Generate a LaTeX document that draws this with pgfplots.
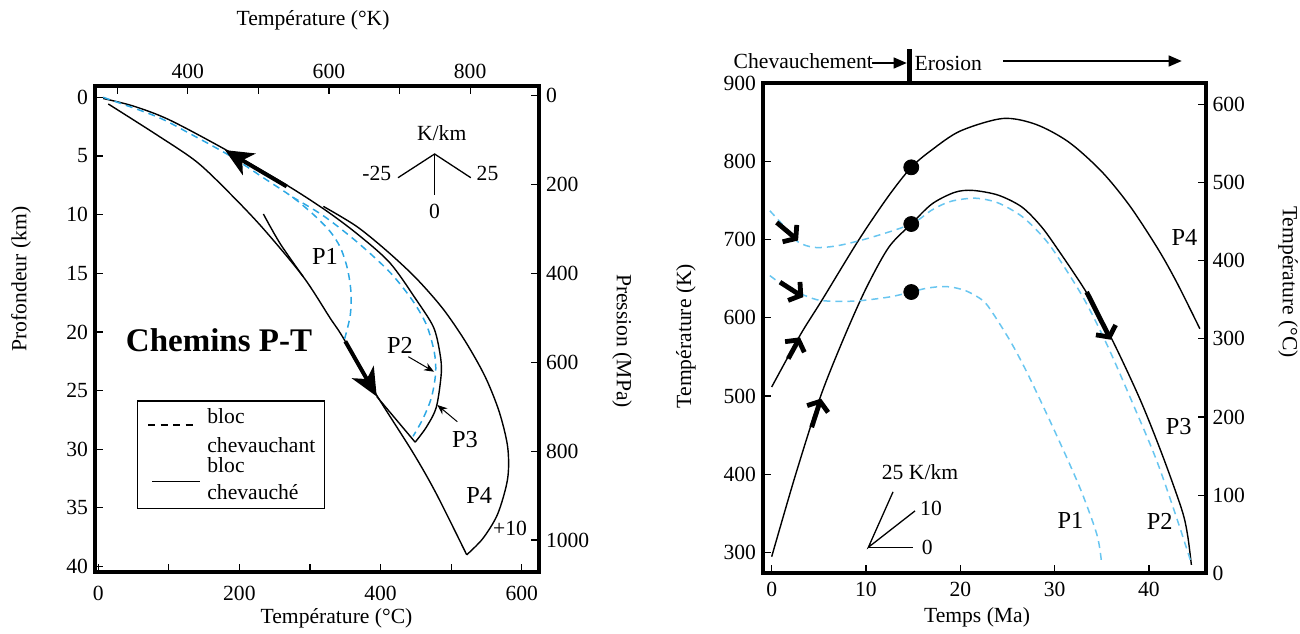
\documentclass[border=0pt]{standalone}
\usepackage{fontspec}
\setmainfont{Liberation Serif}
\usepackage{pgfplots}
\pgfplotsset{compat=1.18}
\usetikzlibrary{arrows.meta}
\definecolor{dblue}{RGB}{45,168,228}
\definecolor{lblue}{RGB}{105,198,240}
\newcommand{\tfont}{\fontsize{10.8}{12.5}\selectfont}
\newcommand{\pfont}{\fontsize{12.2}{14}\selectfont}
\pgfplotsset{
  frame/.style={scale only axis, axis line style={line width=2pt},
    tick style={line width=0.6pt, black}, major tick length=4pt, tick align=inside,
    tick label style={font=\tfont}, /pgf/number format/assume math mode=true, clip=false},
  solid/.style={black, line width=0.7pt},
  dashl/.style={dblue, line width=0.75pt, dash pattern=on 3.5pt off 2.5pt},
  dashr/.style={lblue, line width=0.75pt, dash pattern=on 3.5pt off 2.5pt},
}
\begin{document}
\begin{tikzpicture}[x=0.5pt,y=-0.5pt]
\path[use as bounding box] (0,0) rectangle (1300,633);

% ---------------- left panel ----------------
\begin{axis}[frame, at={(47.5pt,-43pt)}, anchor=north west, width=222pt, height=242.85pt,
  xmin=-4.53, xmax=624.4, ymin=-40.44, ymax=0.963,
  xtick={0,100,...,600}, xticklabels={0,,200,,400,,600},
  ytick={-40,-35,...,0}, yticklabels={40,35,30,25,20,15,10,5,0},
  xtick pos=left, ytick pos=left, xticklabel style={yshift=-3.5pt}]
% top line + P3 loop
\addplot[solid, smooth] coordinates {(7,-0.1) (50,-0.75) (100,-1.9) (177,-4.35) (262,-7.3) (319,-9.5) (366,-11.6) (413,-14.1) (451,-17.3) (475,-19.6) (484,-21.8) (486,-23.5) (479,-26.4) (465,-28.1) (449,-29.4)};
\addplot[solid] coordinates {(449,-29.4) (394.5,-25.5)};
% P4
\addplot[solid, smooth] coordinates {(319,-9.3) (366,-11.0) (409,-13.1) (450,-15.4) (488,-18.0) (520,-20.8) (548,-23.8) (568,-26.8) (580,-29.8) (580,-32.5) (566,-35.5) (545,-37.6) (522,-39.0)};
% burial line
\addplot[solid, smooth] coordinates {(14.3,-0.57) (83,-3.2) (139.5,-5.5) (186.7,-8.2) (233.9,-11.2) (290.5,-15.3) (328.3,-18.8) (347,-20.5) (394.5,-25.4) (446,-30.3) (479,-33.8) (522,-39.0)};
\addplot[solid, smooth] coordinates {(234,-9.95) (257.5,-12.45) (290.5,-15.3)};
% dashed
\addplot[dashl, smooth] coordinates {(7,0) (83,-1.65) (130,-3.1) (187,-5.0) (235,-6.9) (275,-8.5) (305,-10.0) (328,-11.4) (343,-12.8) (353,-14.6) (358,-16.6) (357,-18.6) (349,-20.6)};
\addplot[dashl, smooth] coordinates {(275,-8.5) (319,-10.1) (366,-12.3) (413,-14.9) (445,-17.3) (465,-19.4) (476,-21.7) (478,-23.5) (472,-25.6) (460,-27.4) (446,-28.9)};
% thick arrows
\draw[line width=2pt, -{Stealth[length=14pt,width=12.5pt,inset=4pt]}] (axis cs:267,-7.6) -- (axis cs:179.6,-4.5);
\draw[line width=2pt, -{Stealth[length=14pt,width=12.5pt,inset=4pt]}] (axis cs:350,-20.8) -- (axis cs:394.5,-25.5);
\end{axis}
\begin{axis}[frame, at={(47.5pt,-43pt)}, anchor=north west, width=222pt, height=242.85pt,
  xmin=268.62, xmax=897.55, ymin=-1071.3, ymax=21.4,
  xtick={300,400,...,800}, xticklabels={,400,,600,,800},
  ytick={-1000,-800,...,0}, yticklabels={1000,800,600,400,200,0},
  xtick pos=right, xticklabel pos=right, ytick pos=right, yticklabel pos=right]
\end{axis}

% ---------------- right panel ----------------
\begin{axis}[frame, at={(381.5pt,-41.65pt)}, anchor=north west, width=221.25pt, height=245pt,
  xmin=-0.92, xmax=46, ymin=273.15, ymax=900,
  xtick={0,10,...,40}, ytick={300,400,...,900}, xtick pos=left, ytick pos=left,
  xticklabel style={yshift=-1pt}]
\addplot[solid, smooth] coordinates {(0,511.5) (3.0,577.5) (5.3,622) (9.2,699) (12.4,756) (14.8,792.5) (17,815) (20,839) (24.5,855) (28,847.5) (31.5,824.8) (35,787) (38,742.7) (41,687.3) (43,644.2) (45.4,586)};
\addplot[solid, smooth] coordinates {(0,294.4) (2.5,398) (5.1,496.7) (7.4,567) (9.9,635) (12.4,690) (14.8,720) (17,745.7) (19.4,760.5) (21.3,763) (24,757) (26.5,742) (28.5,718) (30.2,690) (33.4,632) (36.1,572) (39.1,494.5) (41.5,422) (43.5,354) (44.1,322) (44.5,284)};
\addplot[dashr, smooth] coordinates {(-0.2,737) (1.4,716) (2.8,697) (4.6,690) (7.1,692.5) (10.6,703) (14.8,720) (17,738) (19,749) (21.6,753) (24,747) (26.5,730) (28.5,707) (30,684) (33.0,626.5) (35.5,567) (38.3,490) (40.8,418) (42.9,345.5) (44.5,286)};
\addplot[dashr, smooth] coordinates {(-0.2,654) (1.8,637) (3.5,628.6) (5.3,622) (8.8,621.4) (12.4,626.5) (14.8,633) (16.5,638) (18.5,640) (20.5,635) (22.4,622) (23.5,605) (25.5,566) (27.4,522) (30.2,450) (32.7,382) (34.5,322) (35.0,284)};
\addplot[only marks, mark=*, mark size=3.75pt, black] coordinates {(14.8,792.5) (14.8,720) (14.8,633)};
% thick arrows
\draw[line width=2.4pt, -{Straight Barb[length=4pt,width=11pt]}] (axis cs:0.53,722) -- (axis cs:2.8,699);
\draw[line width=2.4pt, -{Straight Barb[length=4pt,width=11pt]}] (axis cs:0.88,645.6) -- (axis cs:3.35,626.5);
\draw[line width=2.4pt, -{Straight Barb[length=4pt,width=11pt]}] (axis cs:1.76,547.8) -- (axis cs:3.0,575);
\draw[line width=2.4pt, -{Straight Barb[length=4pt,width=11pt]}] (axis cs:4.24,460) -- (axis cs:5.23,496.7);
\draw[line width=2.4pt, -{Straight Barb[length=4pt,width=11pt]}] (axis cs:33.4,633) -- (axis cs:35.95,572);
% gradient indicator
\draw[line width=0.65pt] (axis cs:12.87,377.4) -- (axis cs:10.25,306.4) -- (axis cs:15.2,353);
\draw[line width=0.65pt] (axis cs:10.25,306.4) -- (axis cs:15.0,306.4);
\end{axis}
\begin{axis}[frame, at={(381.5pt,-41.65pt)}, anchor=north west, width=221.25pt, height=245pt,
  xmin=-0.92, xmax=46, ymin=0, ymax=626.85,
  xtick=\empty, ytick={0,100,...,600}, ytick pos=right, yticklabel pos=right]
\end{axis}

% ---------------- texts (picture px coordinates) ----------------
\node[font=\tfont] at (313,20) {Température (°K)};
\node[font=\tfont] at (336.5,618) {Température (°C)};
\node[font=\tfont, rotate=90] at (21,279) {Profondeur (km)};
\node[font=\tfont, rotate=-90] at (622,341) {Pression (MPa)};
\node[font=\tfont, rotate=90] at (686,336) {Température (K)};
\node[font=\tfont, rotate=-90] at (1288,282) {Température (°C)};
\node[font=\tfont] at (977,617) {Temps (Ma)};

\node[font=\fontsize{16.5}{20}\selectfont\bfseries] at (219,340) {Chemins P-T};

% left labels
\node[font=\pfont] at (325,256.7) {P1};
\node[font=\pfont] at (400,345) {P2};
\node[font=\pfont] at (465,439.3) {P3};
\node[font=\pfont] at (479.3,495) {P4};
\node[font=\tfont] at (510,528.3) {+10};
\draw[line width=0.5pt, -{Stealth[length=5pt,width=4pt]}] (408.3,356.7) -- (434,371.7);
\draw[line width=0.5pt, -{Stealth[length=5pt,width=4pt]}] (457.3,421.7) -- (437.3,405);

% K/km indicator left
\node[font=\tfont] at (441.7,133.3) {K/km};
\draw[line width=0.65pt] (398,177.7) -- (434.6,154) -- (470.8,177.7);
\draw[line width=0.65pt] (434.6,154) -- (434.6,195);
\node[font=\tfont] at (376.7,173.3) {-25};
\node[font=\tfont] at (487.5,173.3) {25};
\node[font=\tfont] at (434.6,211) {0};

% legend
\draw[line width=0.8pt] (137.5,401) rectangle (324.5,508.3);
\draw[line width=0.65pt, dash pattern=on 3.5pt off 2.75pt] (148,425) -- (198,425);
\draw[line width=0.65pt] (152,481.7) -- (200,481.7);
\node[font=\tfont, anchor=west, inner sep=0pt] at (207,416) {bloc};
\node[font=\tfont, anchor=west, inner sep=0pt] at (207,445) {chevauchant};
\node[font=\tfont, anchor=west, inner sep=0pt] at (207,465) {bloc};
\node[font=\tfont, anchor=west, inner sep=0pt] at (207,492) {chevauché};

% right labels
\node[font=\pfont] at (1184.5,237.3) {P4};
\node[font=\pfont] at (1178.7,426.7) {P3};
\node[font=\pfont] at (1159.7,521.7) {P2};
\node[font=\pfont] at (1070.5,520) {P1};
\node[font=\tfont] at (920,471.7) {25 K/km};
\node[font=\tfont] at (931,508.3) {10};
\node[font=\tfont] at (927.3,547) {0};

% top annotation
\node[font=\tfont] at (803.3,61) {Chevauchement};
\draw[line width=0.65pt, -{Triangle[length=6.5pt,width=5.5pt]}] (871.7,63) -- (906.7,63);
\draw[line width=2.5pt] (909,49.3) -- (909,84);
\node[font=\tfont] at (948.3,63.3) {Erosion};
\draw[line width=0.65pt, -{Triangle[length=6.5pt,width=5.5pt]}] (1003.3,61) -- (1181.7,61);
\end{tikzpicture}
\end{document}
